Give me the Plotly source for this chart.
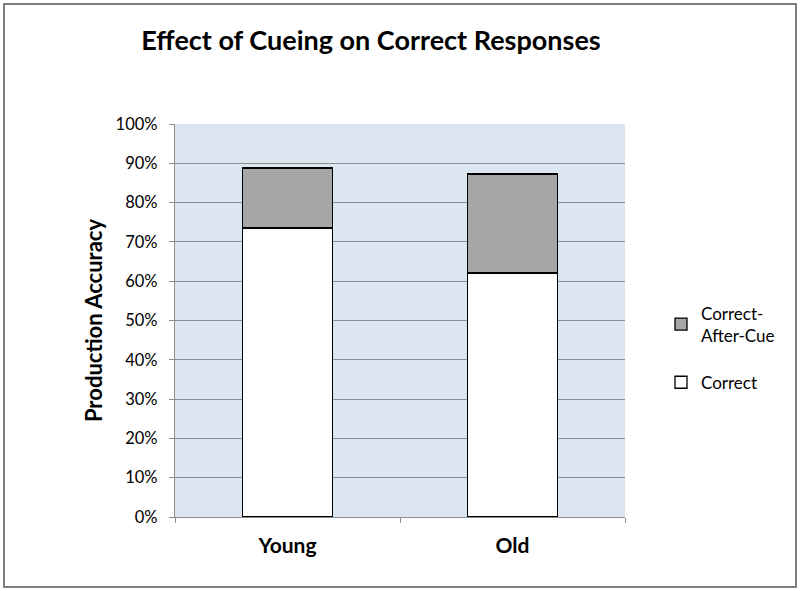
import plotly.graph_objects as go

categories = ["Young", "Old"]
category_labels = ["<b>Young</b>", "<b>Old</b>"]
correct = [0.735, 0.621]
correct_after_cue = [0.153, 0.252]
y_ticks = [0, 0.1, 0.2, 0.3, 0.4, 0.5, 0.6, 0.7, 0.8, 0.9, 1.0]
y_tick_labels = ["0%", "10%", "20%", "30%", "40%", "50%", "60%", "70%", "80%", "90%", "100%"]

FONT = "Lato"

fig = go.Figure()
fig.add_trace(go.Bar(
    x=categories, y=correct, name="Correct", legendgroup="correct", legendrank=2,
    marker=dict(color="#ffffff", line=dict(color="#000000", width=1.3)),
    width=0.4,
))
fig.add_trace(go.Bar(
    x=categories, y=correct_after_cue, name="Correct-<br>After-Cue",
    legendgroup="cue", legendrank=1,
    marker=dict(color="#a6a6a6", line=dict(color="#000000", width=1.3)),
    width=0.4,
))

fig.update_layout(
    width=800, height=591,
    barmode="stack",
    paper_bgcolor="#ffffff",
    plot_bgcolor="#dce6f2",
    margin=dict(l=175, r=175, t=124, b=74),
    font=dict(family=FONT, color="#000000"),
    title=dict(text="<b>Effect of Cueing on Correct Responses</b>",
               font=dict(size=27, family=FONT, color="#000000"),
               x=371 / 800, xanchor="center", y=1 - 41 / 591, yanchor="middle"),
    showlegend=True,
    legend=dict(traceorder="grouped", x=(661 - 175) / 450, xanchor="left",
                y=(517 - 348) / 393, yanchor="middle", itemwidth=30,
                font=dict(size=17, family=FONT), tracegroupgap=22,
                bgcolor="rgba(0,0,0,0)"),
    xaxis=dict(
        tickvals=categories, ticktext=category_labels,
        showgrid=False, showline=True, linecolor="#8c8c8c", linewidth=1.3,
        ticks="outside", tickson="boundaries", ticklen=5, tickcolor="#8c8c8c",
        tickfont=dict(size=21, family=FONT),
        ticklabelstandoff=10,
    ),
    yaxis=dict(
        range=[0, 1.0], tickvals=y_ticks, ticktext=y_tick_labels,
        showgrid=True, gridcolor="#8c8c8c", gridwidth=1.3,
        showline=True, linecolor="#8c8c8c", linewidth=1.3,
        ticks="outside", ticklen=5, tickcolor="#8c8c8c",
        tickfont=dict(size=16.5, family=FONT), ticklabelstandoff=8,
        title=dict(text="<b>Production Accuracy</b>", font=dict(size=22, family=FONT), standoff=6),
        zeroline=False,
    ),
    shapes=[dict(type="rect", xref="paper", yref="paper",
                 x0=(4 - 175) / 450, x1=(796 - 175) / 450,
                 y0=(517 - 587) / 393, y1=(517 - 4) / 393,
                 line=dict(color="#7f7f7f", width=2), fillcolor="rgba(0,0,0,0)",
                 layer="below")],
)

fig.write_html("out.html", config={"displayModeBar": False},
               post_script="document.body.style.margin='0';document.body.style.overflow='hidden';")
